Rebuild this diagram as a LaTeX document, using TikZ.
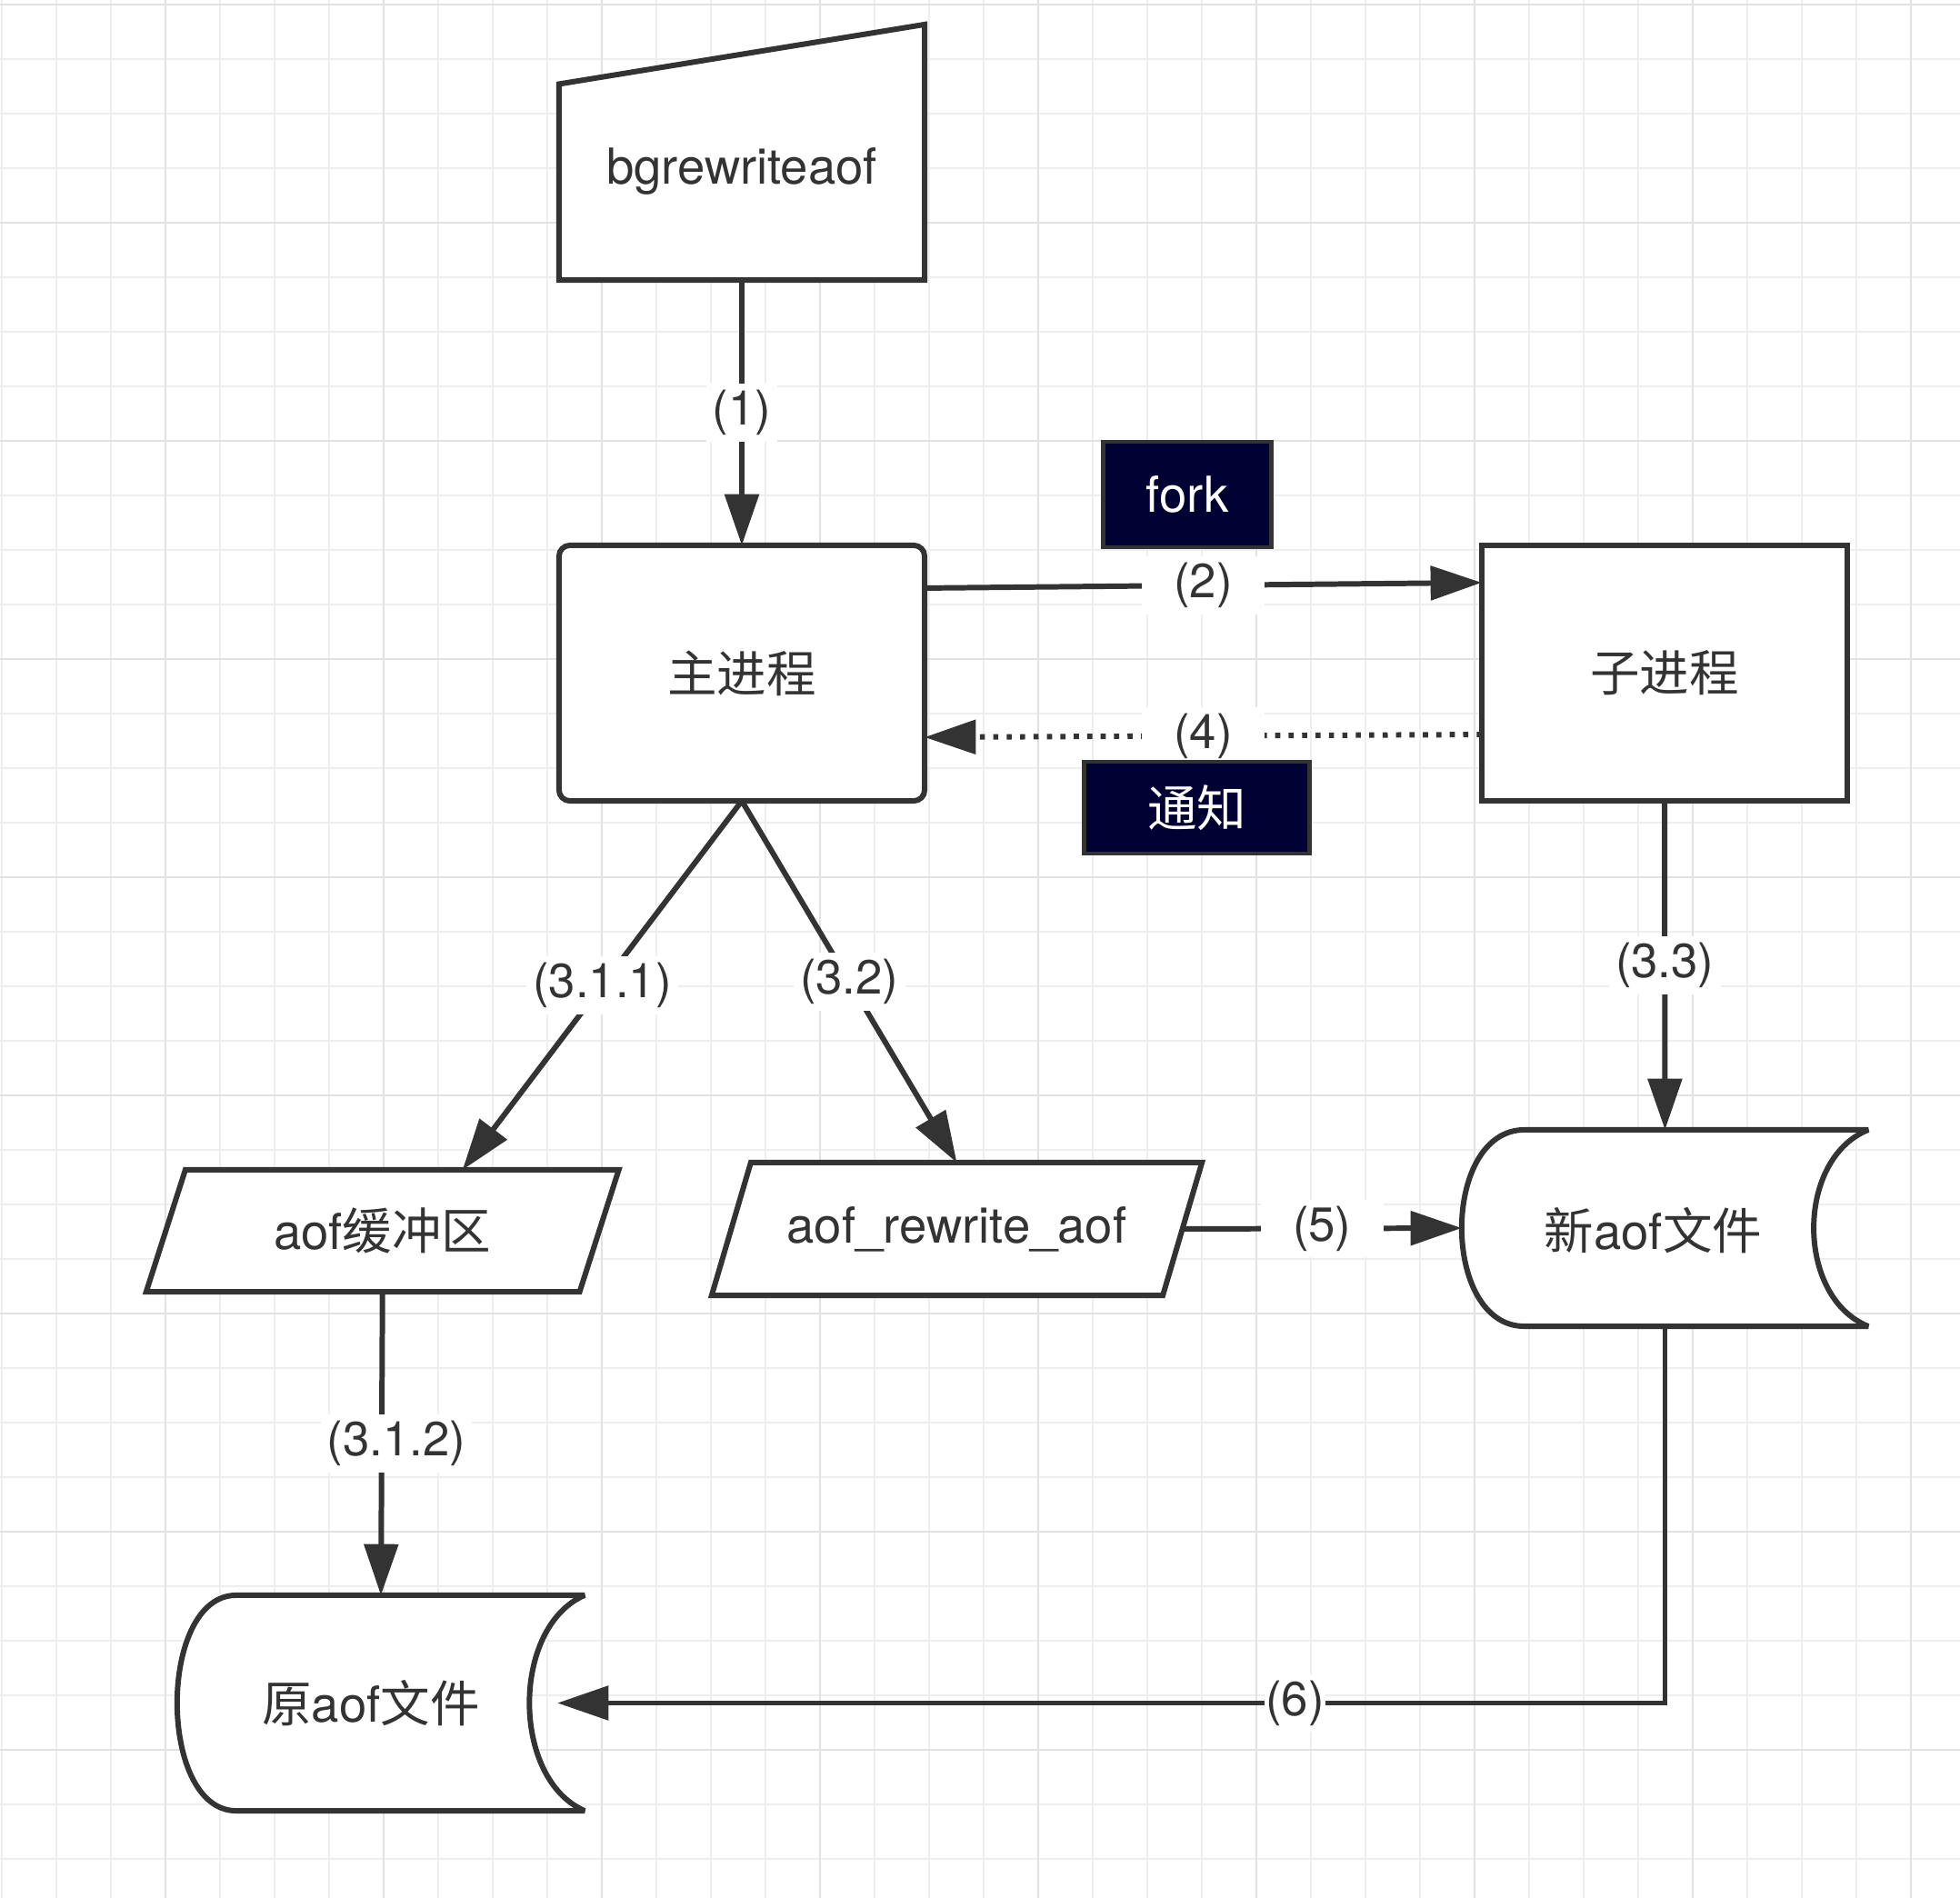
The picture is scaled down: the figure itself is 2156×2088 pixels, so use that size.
\documentclass[tikz,border=0pt]{standalone}
\usepackage{fontspec}
\setmainfont{TeX Gyre Heros}
\newfontfamily\cjk{Noto Sans CJK SC}
\usetikzlibrary{arrows.meta,calc}
\definecolor{linec}{HTML}{333333}
\definecolor{txtc}{HTML}{333333}
\definecolor{navyfill}{HTML}{000033}
\definecolor{gridminor}{HTML}{EEEEEE}
\definecolor{gridmajor}{HTML}{E2E2E2}
\newcommand\dgnodefont{\fontsize{15.5pt}{18pt}\selectfont}
\newcommand\dglblfont{\fontsize{15pt}{18pt}\selectfont}
\begin{document}
\begin{tikzpicture}[x=0.01cm,y=-0.01cm,
  outline/.style={draw=linec, line width=1.7pt, fill=white, line join=miter},
  plain/.style={draw=none, inner sep=0pt, outer sep=0pt, text=txtc, font=\dgnodefont},
  box/.style={outline, minimum width=4.02cm, minimum height=2.81cm, inner sep=0pt, outer sep=0pt, text=txtc, font=\dgnodefont},
  darkbox/.style={draw=linec, line width=1.4pt, fill=navyfill, text=white, font=\dgnodefont, inner sep=0pt, outer sep=0pt},
  conn/.style={draw=linec, line width=1.7pt, -{Triangle[length=16pt,width=10.5pt]}},
  dotconn/.style={conn, dash pattern=on 1.6pt off 2.6pt},
  lbl/.style={fill=white, text=txtc, font=\dglblfont, inner xsep=2pt, inner ysep=2pt},
  widelbl/.style={lbl, inner xsep=10pt},
  gridmin/.style={draw=gridminor, line width=0.7pt},
  gridmaj/.style={draw=gridmajor, line width=0.7pt}
]
% background and grid
\fill[white] (0,0) rectangle (2156,2088);
\useasboundingbox (0,0) rectangle (2156,2088);
\foreach \gx in {2,62,...,2156} \draw[gridmin] (\gx,0) -- (\gx,2088);
\foreach \gy in {5,65,...,2088} \draw[gridmin] (0,\gy) -- (2156,\gy);
\foreach \gx in {182,422,...,2156} \draw[gridmaj] (\gx,0) -- (\gx,2088);
\foreach \gy in {5,245,...,2088} \draw[gridmaj] (0,\gy) -- (2156,\gy);

% bgrewriteaof (manual input)
\node[plain, minimum width=4.02cm, minimum height=2.81cm] (bg) at (816,167.5) {};
\path[outline] (bg.south west) -- (bg.south east) -- (bg.north east) -- ([yshift=-0.655cm]bg.north west) -- cycle;
\node[plain] (bgt) at ([yshift=-0.205cm]bg.center) {bgrewriteaof};

% processes
\node[box, rounded corners=0.12cm] (main) at (816,740.5) {\cjk 主进程};
\node[box] (child) at (1831,740.5) {\cjk 子进程};

% aof buffer (parallelogram)
\node[plain, minimum width=4.765cm, minimum height=1.34cm] (buf) at (420.75,1354) {};
\path[outline] ([xshift=0.215cm]buf.north west) -- ([xshift=0.215cm]buf.north east) -- ([xshift=-0.215cm]buf.south east) -- ([xshift=-0.215cm]buf.south west) -- cycle;
\node[plain] (buft) at (buf.center) {aof{\cjk 缓冲区}};

% aof_rewrite_aof (parallelogram)
\node[plain, minimum width=4.96cm, minimum height=1.46cm] (rw) at (1052.5,1352) {};
\path[outline] ([xshift=0.215cm]rw.north west) -- ([xshift=0.215cm]rw.north east) -- ([xshift=-0.215cm]rw.south east) -- ([xshift=-0.215cm]rw.south west) -- cycle;
\node[plain] (rwt) at (rw.center) {aof\_rewrite\_aof};

% new aof file (stored data)
\node[plain, minimum width=4.47cm, minimum height=2.16cm] (newf) at (1831.5,1351) {};
\path[outline, line join=bevel] ([xshift=0.69cm]newf.north west) -- (newf.north east)
  .. controls ([xshift=-0.8cm,yshift=-0.32cm]newf.north east) and ([xshift=-0.8cm,yshift=0.32cm]newf.south east) .. (newf.south east)
  -- ([xshift=0.69cm]newf.south west)
  .. controls ([xshift=-0.23cm]newf.south west) and ([xshift=-0.23cm]newf.north west) .. ([xshift=0.69cm]newf.north west) -- cycle;
\node[plain] (newt) at ([xshift=-0.13cm,yshift=-0.03cm]newf.center) {{\cjk 新}aof{\cjk 文件}};

% original aof file (stored data)
\node[plain, minimum width=4.48cm, minimum height=2.37cm] (oldf) at (419,1873.5) {};
\path[outline, line join=bevel] ([xshift=0.65cm]oldf.north west) -- (oldf.north east)
  .. controls ([xshift=-0.81cm,yshift=-0.35cm]oldf.north east) and ([xshift=-0.81cm,yshift=0.35cm]oldf.south east) .. (oldf.south east)
  -- ([xshift=0.65cm]oldf.south west)
  .. controls ([xshift=-0.217cm]oldf.south west) and ([xshift=-0.217cm]oldf.north west) .. ([xshift=0.65cm]oldf.north west) -- cycle;
\node[plain] (oldt) at ([xshift=-0.11cm]oldf.center) {{\cjk 原}aof{\cjk 文件}};

% connectors
\draw[conn] (bg.south) -- node[lbl] {(1)} (main.north);
\draw[conn] ([yshift=0.935cm]main.east) -- node[widelbl] {(2)} ([yshift=0.995cm]child.west);
\draw[dotconn] ([yshift=-0.675cm]child.west) -- node[widelbl] {(4)} ([yshift=-0.705cm]main.east);
\draw[conn] (main.south) -- node[lbl] {(3.1.1)} ([xshift=0.88cm]buf.north);
\draw[conn] (main.south) -- node[lbl] {(3.2)} (rw.north);
\draw[conn] (child.south) -- node[lbl] {(3.3)} (newf.north);
\draw[conn] (rw.east) -- node[widelbl] {(5)} (newf.west);
\draw[conn] (buf.south) -- node[lbl, xshift=0.16cm] {(3.1.2)} (oldf.north);
\draw[conn] (newf.south) |- node[lbl, pos=0.667, inner xsep=0.3pt] {(6)} ([xshift=-0.3cm]oldf.east);

% dark tags
\node[darkbox, minimum width=1.84cm, minimum height=1.16cm] (fork) at (1306,544) {fork};
\node[darkbox, minimum width=2.47cm, minimum height=1.01cm] (notify) at (1316.5,888.5) {\cjk 通知};
\end{tikzpicture}
\end{document}
